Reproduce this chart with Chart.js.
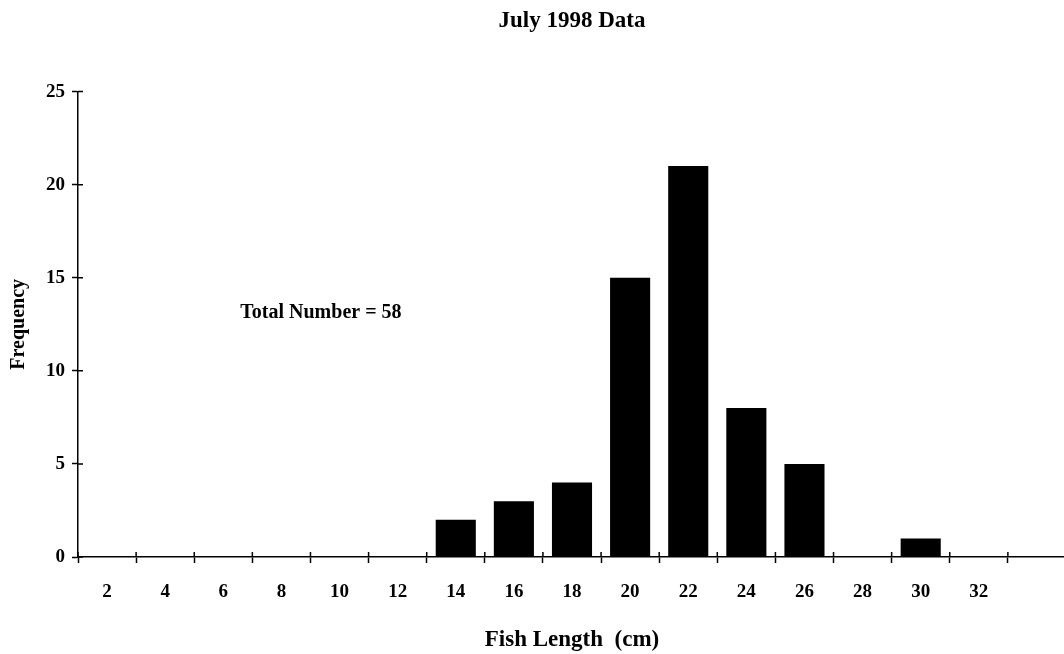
<!DOCTYPE html>
<html>
<head>
<meta charset="utf-8">
<script src="https://cdn.jsdelivr.net/npm/chart.js@4"></script>
<style>
  html, body { margin: 0; padding: 0; background: #fff; overflow: hidden; }
  #wrap { width: 1068px; height: 654px; position: relative; }
</style>
</head>
<body>
<div id="wrap"><canvas id="fishChart"></canvas></div>
<script>
// fish length classes (cm) - last class has no label in the original
const lengths = ["2", "4", "6", "8", "10", "12", "14", "16", "18", "20", "22", "24", "26", "28", "30", "32", ""];
// number of fish in each class
const frequency = [0, 0, 0, 0, 0, 0, 2, 3, 4, 15, 21, 8, 5, 0, 1, 0, 0];
// y axis ticks
const yTicks = [0, 5, 10, 15, 20, 25];

const noteText = "Total Number = 58";
const noteAt = { x: 3.68, y: 13.1 }; // in data units

const serif = "'Liberation Serif', 'Times New Roman', serif";

// writes the "Total Number" note inside the plot
const notePlugin = {
  id: "note",
  afterDraw(chart) {
    const ctx = chart.ctx;
    const x = chart.scales.x.getPixelForValue(noteAt.x);
    const y = chart.scales.y.getPixelForValue(noteAt.y);
    ctx.save();
    ctx.font = "bold 20px " + serif;
    ctx.fillStyle = "#000";
    ctx.textAlign = "center";
    ctx.textBaseline = "middle";
    ctx.fillText(noteText, x, y);
    ctx.restore();
  },
};

// tick marks cross the axis line, so draw the inner half too
const crossTicks = {
  id: "crossTicks",
  afterDatasetsDraw(chart) {
    const { ctx, chartArea, scales } = chart;
    ctx.save();
    ctx.strokeStyle = "#000";
    ctx.lineWidth = 1.5;
    ctx.beginPath();
    for (let i = 0; i < lengths.length; i++) {
      const x = scales.x.getPixelForValue(i - 0.5);
      ctx.moveTo(x, chartArea.bottom);
      ctx.lineTo(x, chartArea.bottom - 5);
    }
    yTicks.forEach((v) => {
      const y = scales.y.getPixelForValue(v);
      ctx.moveTo(chartArea.left, y);
      ctx.lineTo(chartArea.left + 5, y);
    });
    ctx.stroke();
    ctx.restore();
  },
};

const ctx = document.getElementById("fishChart").getContext("2d");
const chart = new Chart(ctx, {
  type: "bar",
  data: {
    labels: lengths,
    datasets: [
      {
        data: frequency,
        backgroundColor: "#000",
        borderWidth: 0,
        barPercentage: 0.69,
        categoryPercentage: 1,
      },
    ],
  },
  options: {
    responsive: true,
    maintainAspectRatio: false,
    animation: false,
    layout: { padding: { top: 0, right: 2, left: 0, bottom: 0 } },
    plugins: {
      legend: { display: false },
      tooltip: { enabled: false },
      title: {
        display: true,
        fullSize: false,
        text: "July 1998 Data",
        color: "#000",
        font: { family: serif, size: 23, weight: "bold", lineHeight: 1.2 },
        padding: { top: 7, bottom: 57 },
      },
    },
    scales: {
      x: {
        grid: {
          offset: true,
          drawOnChartArea: false,
          drawTicks: true,
          tickLength: 6,
          color: "#000",
          tickWidth: 1.5,
        },
        border: { color: "#000", width: 1.5 },
        ticks: {
          color: "#000",
          padding: 18,
          maxRotation: 0,
          autoSkip: false,
          font: { family: serif, size: 19, weight: "bold" },
        },
        title: {
          display: true,
          text: "Fish Length  (cm)",
          color: "#000",
          font: { family: serif, size: 23, weight: "bold", lineHeight: 1.2 },
          padding: { top: 17, bottom: 0 },
        },
        afterFit(scale) {
          scale.height = 97;
        },
      },
      y: {
        min: 0,
        max: 25,
        afterBuildTicks(scale) {
          scale.ticks = yTicks.map((v) => ({ value: v }));
        },
        grid: {
          drawOnChartArea: false,
          tickLength: 6,
          color: "#000",
          tickWidth: 1.5,
        },
        border: { color: "#000", width: 1.5 },
        ticks: {
          color: "#000",
          padding: 7,
          font: { family: serif, size: 19, weight: "bold" },
        },
        title: {
          display: true,
          text: "Frequency",
          color: "#000",
          font: { family: serif, size: 20, weight: "bold", lineHeight: 1.2 },
          padding: { top: 7, bottom: 0 },
        },
        afterFit(scale) {
          scale.width = 78;
        },
      },
    },
  },
  plugins: [notePlugin, crossTicks],
});
</script>
</body>
</html>
